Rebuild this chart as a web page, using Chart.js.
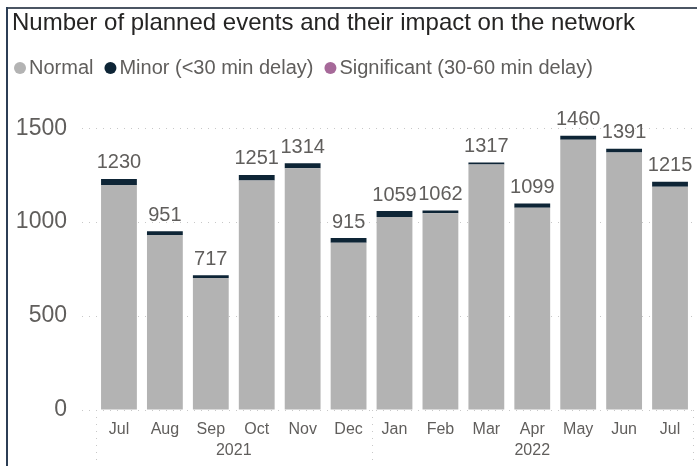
<!DOCTYPE html>
<html>
<head>
<meta charset="utf-8">
<script src="https://cdn.jsdelivr.net/npm/chart.js@4"></script>
<style>
  html, body { margin: 0; padding: 0; background: #fff; }
  #wrap { position: relative; width: 697px; height: 466px; }
</style>
</head>
<body>
<div id="wrap"><canvas id="chart"></canvas></div>
<script>
// data
const months = ['Jul', 'Aug', 'Sep', 'Oct', 'Nov', 'Dec', 'Jan', 'Feb', 'Mar', 'Apr', 'May', 'Jun', 'Jul'];
const years = [
    { label: '2021', from: 0, to: 5 },
    { label: '2022', from: 6, to: 12 }
];
const normal = [1198, 931, 702, 1221, 1287, 890, 1027, 1047, 1307, 1077, 1438, 1371, 1188];
const minor = [32, 20, 15, 30, 27, 25, 32, 15, 10, 22, 22, 20, 27];
const significant = [0, 0, 0, 0, 0, 0, 0, 0, 0, 0, 0, 0, 0];
const yTicks = [0, 500, 1000, 1500];

const FONT = "'Liberation Sans', Arial, sans-serif";
const TITLE = 'Number of planned events and their impact on the network';

// frame, title and legend
const headerPlugin = {
    id: 'header',
    beforeDraw(chart) {
        const ctx = chart.ctx;
        ctx.save();
        ctx.fillStyle = '#fff';
        ctx.fillRect(0, 0, chart.width, chart.height);
        ctx.fillStyle = '#4b5563';
        ctx.fillRect(6, 7, chart.width - 6, 2);
        ctx.fillStyle = '#2c3e55';
        ctx.fillRect(6, 7, 2, chart.height - 7);

        ctx.fillStyle = '#252423';
        ctx.font = '24px ' + FONT;
        ctx.textBaseline = 'middle';
        ctx.fillText(TITLE, 12, 23);

        ctx.font = '20px ' + FONT;
        let x = 14;
        chart.data.datasets.forEach(ds => {
            ctx.fillStyle = ds.backgroundColor;
            ctx.beginPath();
            ctx.arc(x + 6, 68, 6, 0, Math.PI * 2);
            ctx.fill();
            ctx.fillStyle = '#605e5c';
            ctx.fillText(ds.label, x + 15, 68);
            x += 15 + ctx.measureText(ds.label).width + 11;
        });
        ctx.restore();
    }
};

// totals above the stacks
const totalsPlugin = {
    id: 'totals',
    afterDatasetsDraw(chart) {
        const ctx = chart.ctx;
        const yScale = chart.scales.y;
        const meta = chart.getDatasetMeta(0);
        ctx.save();
        ctx.font = '20px ' + FONT;
        ctx.fillStyle = '#605e5c';
        ctx.textAlign = 'center';
        ctx.textBaseline = 'bottom';
        months.forEach((m, i) => {
            const total = chart.data.datasets.reduce((s, ds) => s + ds.data[i], 0);
            ctx.fillText(String(total), meta.data[i].x, yScale.getPixelForValue(total) - 6);
        });
        ctx.restore();
    }
};

// year row and dotted separators under the month labels
const yearsPlugin = {
    id: 'years',
    afterDraw(chart) {
        const ctx = chart.ctx;
        const xScale = chart.scales.x;
        const area = chart.chartArea;
        const step = xScale.getPixelForValue(1) - xScale.getPixelForValue(0);
        ctx.save();
        ctx.strokeStyle = '#c8c8c8';
        ctx.lineWidth = 1;
        ctx.setLineDash([1, 6]);
        const edges = [xScale.getPixelForValue(0) - step / 2];
        years.forEach(y => edges.push(xScale.getPixelForValue(y.to) + step / 2));
        edges.forEach(px => {
            ctx.beginPath();
            ctx.moveTo(Math.round(px) + 0.5, area.bottom);
            ctx.lineTo(Math.round(px) + 0.5, chart.height);
            ctx.stroke();
        });
        ctx.setLineDash([]);
        ctx.font = '16px ' + FONT;
        ctx.fillStyle = '#605e5c';
        ctx.textAlign = 'center';
        ctx.textBaseline = 'middle';
        years.forEach(y => {
            const cx = (xScale.getPixelForValue(y.from) + xScale.getPixelForValue(y.to)) / 2;
            ctx.fillText(y.label, cx, 451);
        });
        ctx.restore();
    }
};

new Chart(document.getElementById('chart'), {
    type: 'bar',
    data: {
        labels: months,
        datasets: [
            { label: 'Normal', data: normal, backgroundColor: '#b3b3b3' },
            { label: 'Minor (<30 min delay)', data: minor, backgroundColor: '#0e2536' },
            { label: 'Significant (30-60 min delay)', data: significant, backgroundColor: '#a66999' }
        ]
    },
    options: {
        responsive: true,
        maintainAspectRatio: false,
        animation: false,
        layout: { padding: { top: 100, left: 12, right: 4, bottom: 0 } },
        datasets: {
            bar: { categoryPercentage: 1, barPercentage: 0.78, borderWidth: 0 }
        },
        plugins: {
            legend: { display: false },
            title: { display: false },
            tooltip: { enabled: false }
        },
        scales: {
            x: {
                stacked: true,
                grid: { display: false, drawTicks: false },
                border: { display: false },
                ticks: {
                    color: '#605e5c',
                    font: { size: 16, family: FONT },
                    padding: 10,
                    maxRotation: 0,
                    autoSkip: false
                },
                afterFit(scale) { scale.height = 56; }
            },
            y: {
                stacked: true,
                min: 0,
                max: 1650,
                border: { display: false, dash: [1, 6] },
                grid: {
                    color: '#c8c8c8',
                    lineWidth: 1,
                    tickLength: 14,
                    tickColor: '#c8c8c8',
                    tickBorderDash: [1, 6]
                },
                ticks: {
                    color: '#605e5c',
                    font: { size: 23, family: FONT },
                    padding: 15,
                    callback: v => String(v)
                },
                afterBuildTicks(scale) {
                    scale.ticks = yTicks.map(v => ({ value: v }));
                },
                afterFit(scale) { scale.width = 84; }
            }
        }
    },
    plugins: [headerPlugin, totalsPlugin, yearsPlugin]
});
</script>
</body>
</html>
